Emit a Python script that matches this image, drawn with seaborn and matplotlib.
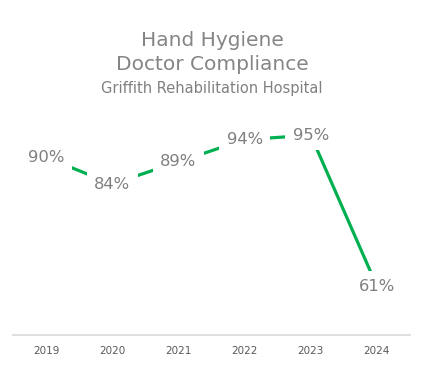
import pandas as pd
import seaborn as sns
import matplotlib.pyplot as plt

# data
years = [2019, 2020, 2021, 2022, 2023, 2024]
compliance = [90, 84, 89, 94, 95, 61]
point_labels = ["90%", "84%", "89%", "94%", "95%", "61%"]

df = pd.DataFrame({"year": years, "compliance": compliance})

sns.set_style("white")
plt.rcParams['font.family'] = ['DejaVu Sans']

fig = plt.figure(figsize=(4.24, 3.65), dpi=100)
ax = fig.add_axes([13 / 424, 30 / 365, 397 / 424, 222 / 365])

sns.lineplot(data=df, x="year", y="compliance", color="#00B050",
             linewidth=2.3, ax=ax, zorder=2)

# data labels sit on the points, white box breaks the line
for x, y, lab in zip(years, compliance, point_labels):
    ax.text(x, y, lab, ha="center", va="center", fontsize=11.8,
            color="#7f7f7f", zorder=3,
            bbox=dict(boxstyle="square,pad=0.45", facecolor="white", edgecolor="none"))

ax.set_xlim(2018.5, 2024.5)
ax.set_ylim(50, 100)
ax.set_xticks(years)
ax.set_xticklabels([str(y) for y in years], fontsize=7.5, color="#595959")
ax.set_yticks([])
ax.tick_params(axis="x", length=0, pad=8)
ax.set_xlabel("")
ax.set_ylabel("")
for side in ["top", "left", "right"]:
    ax.spines[side].set_visible(False)
ax.spines["bottom"].set_color("#d9d9d9")
ax.spines["bottom"].set_linewidth(1.2)

fig.text(0.5, 1 - 40 / 365, "Hand Hygiene", ha="center", va="center",
         fontsize=14.5, color="#858585")
fig.text(0.5, 1 - 65 / 365, "Doctor Compliance", ha="center", va="center",
         fontsize=14.5, color="#858585")
fig.text(0.5, 1 - 88 / 365, "Griffith Rehabilitation Hospital", ha="center",
         va="center", fontsize=10.5, color="#808080")

fig.savefig("out.png", dpi=100, facecolor="white")
